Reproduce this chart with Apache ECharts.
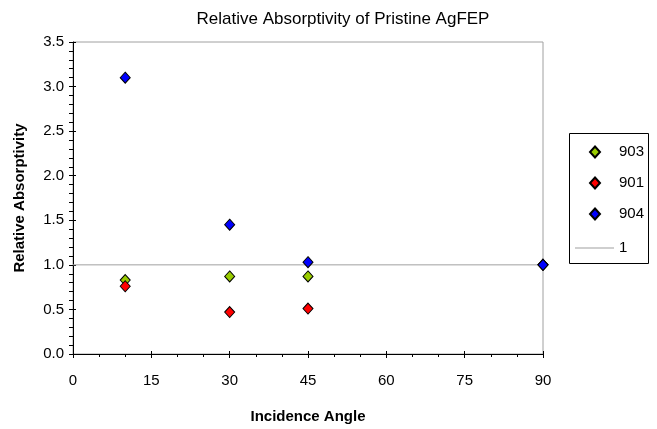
<!DOCTYPE html>
<html>
<head>
<meta charset="utf-8">
<script src="https://cdn.jsdelivr.net/npm/echarts@6/dist/echarts.min.js"></script>
<style>html,body{margin:0;padding:0;background:#fff;}#c{width:657px;height:429px;}</style>
</head>
<body>
<div id="c"></div>
<script>
const angles = [10, 30, 45, 90];
const s903 = [0.83, 0.87, 0.87, 1.0];
const s901 = [0.76, 0.47, 0.51, 1.0];
const s904 = [3.10, 1.45, 1.03, 1.0];
const refX = [0, 90];
const refY = [1, 1];
const xTicks = [0, 15, 30, 45, 60, 75, 90];
const yTicks = [0, 0.5, 1, 1.5, 2, 2.5, 3, 3.5];

const pair = (xs, ys) => xs.map((x, i) => [x, ys[i]]);
const F = 'Liberation Sans, Arial, sans-serif';
const mk = (name, color, ys) => ({
  name, type: 'scatter', data: pair(angles, ys), symbol: 'diamond', symbolSize: [10, 11],
  itemStyle: { color, borderColor: '#000', borderWidth: 1, opacity: 1 }, z: 3
});
const hideAll = { axisLine: { show: false }, axisLabel: { show: false }, splitLine: { show: false }, minorTick: { show: false } };

const chart = echarts.init(document.getElementById('c'), null, { renderer: 'canvas' });
chart.setOption({
  animation: false,
  backgroundColor: '#fff',
  title: { text: 'Relative Absorptivity of Pristine AgFEP', left: 338, textAlign: 'center', top: 6,
    textStyle: { fontFamily: F, fontSize: 17, fontWeight: 'normal', color: '#000' } },
  grid: { left: 73, right: 114, top: 42, bottom: 74, show: true, borderColor: '#a0a0a0', borderWidth: 1 },
  xAxis: [{
    type: 'value', min: 0, max: 90, interval: 15, position: 'bottom',
    name: 'Incidence Angle', nameLocation: 'middle', nameGap: 55,
    nameTextStyle: { fontFamily: F, fontSize: 15, fontWeight: 'bold', color: '#000' },
    axisLine: { show: true, lineStyle: { color: '#000', width: 1 } },
    axisTick: { show: true, length: 4, lineStyle: { color: '#000' } },
    minorTick: { show: true, splitNumber: 3, length: 3, lineStyle: { color: '#000' } },
    splitLine: { show: false },
    axisLabel: { fontFamily: F, fontSize: 15, color: '#000', margin: 19,
      formatter: v => xTicks.includes(v) ? String(v) : '' }
  }, Object.assign({
    type: 'value', min: 0, max: 90, interval: 15, position: 'bottom', offset: 0,
    axisTick: { show: true, inside: true, length: 3, lineStyle: { color: '#000' } }
  }, hideAll)],
  yAxis: [{
    type: 'value', min: 0, max: 3.5, interval: 0.5, position: 'left',
    name: 'Relative Absorptivity', nameLocation: 'middle', nameGap: 46, nameRotate: 90,
    nameTextStyle: { fontFamily: F, fontSize: 15, fontWeight: 'bold', color: '#000' },
    axisLine: { show: true, lineStyle: { color: '#000', width: 1 } },
    axisTick: { show: true, length: 4, lineStyle: { color: '#000' } },
    minorTick: { show: true, splitNumber: 5, length: 4, lineStyle: { color: '#000' } },
    splitLine: { show: false },
    axisLabel: { fontFamily: F, fontSize: 15, color: '#000', margin: 9,
      formatter: v => yTicks.some(t => Math.abs(t - v) < 1e-9) ? v.toFixed(1) : '' }
  }, Object.assign({
    type: 'value', min: 0, max: 3.5, interval: 0.5, position: 'left', offset: 0,
    axisTick: { show: true, inside: true, length: 3, lineStyle: { color: '#000' } }
  }, hideAll)],
  graphic: [{
    type: 'rect', left: 569, top: 133, z: 0,
    shape: { width: 79, height: 130 },
    style: { fill: '#fff', stroke: '#000', lineWidth: 1 }
  }],
  legend: [{
    orient: 'vertical', left: 589, top: 144, padding: 0, itemGap: 15,
    itemWidth: 10, itemHeight: 11,
    textStyle: { fontFamily: F, fontSize: 15, color: '#000', lineHeight: 16, padding: [0, 0, 0, 14] },
    data: [
      { name: '903', icon: 'diamond' },
      { name: '901', icon: 'diamond' },
      { name: '904', icon: 'diamond' }
    ]
  }, {
    orient: 'vertical', left: 575, top: 240, padding: 0,
    itemWidth: 39, itemHeight: 1,
    textStyle: { fontFamily: F, fontSize: 15, color: '#000', lineHeight: 16 },
    data: [{ name: '1', icon: 'rect', itemStyle: { color: '#a0a0a0', borderWidth: 0 } }]
  }],
  series: [
    { name: '1', type: 'line', data: pair(refX, refY), symbol: 'none', showSymbol: false,
      lineStyle: { color: '#a0a0a0', width: 1 }, itemStyle: { color: '#a0a0a0' }, z: 2 },
    mk('903', '#99cc00', s903),
    mk('901', '#ff0000', s901),
    mk('904', '#0000ff', s904)
  ]
});
</script>
</body>
</html>
